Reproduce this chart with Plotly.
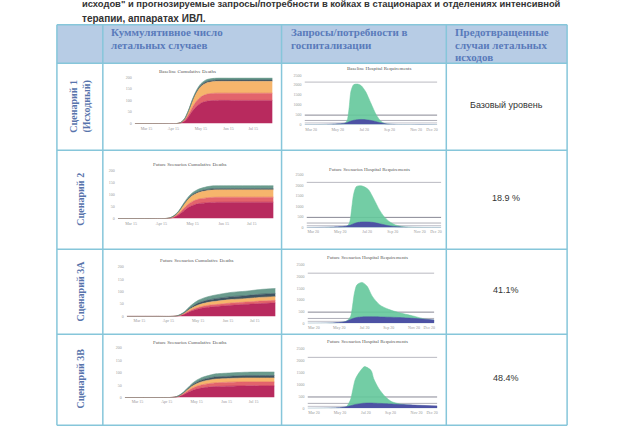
import plotly.graph_objects as go

W, H = 640, 443


def px(x):
    return x / W


def py(y):
    return 1 - y / H


# ---------------- DATA ----------------
header_lines = [["Куммулятивное число", "летальных случаев"],
                ["Запросы/потребности в", "госпитализации"],
                ["Предотвращенные", "случаи летальных", "исходов"]]
row_labels = ["Сценарий 1<br>(Исходный)", "Сценарий 2", "Сценарий 3А", "Сценарий 3В"]
prevented = ["Базовый уровень", "18.9 %", "41.1%", "48.4%"]
intro_line1 = "исходов\" и прогнозируемые запросы/потребности в койках в стационарах и отделениях интенсивной"
intro_line2 = "терапии, аппаратах ИВЛ."

cum_titles = ["Baseline Cumulative Deaths", "Future Scenarios Cumulative Deaths",
              "Future Scenarios Cumulative Deaths", "Future Scenarios Cumulative Deaths"]
hosp_titles = ["Baseline Hospital Requirements", "Future Scenarios Hospital Requirements",
               "Future Scenarios Hospital Requirements", "Future Scenarios Hospital Requirements"]

cum_x = [0, 20, 30, 33, 36, 39, 42, 45, 48, 52, 56, 60, 70, 80, 90, 100]
cum_tickvals = [8.5, 28, 48, 68, 86]
cum_ticktext = ["Mar 15", "Apr 15", "May 15", "Jun 15", "Jul 15"]
cum_yticks = [0, 50, 100, 150, 200]
layer_names = ["Layer 1", "Layer 2", "Layer 3", "Layer 4", "Layer 5"]
layer_colors = ["#b82a5e", "#e3646c", "#f6b56c", "#3f5563", "#6a9b8d"]

# scenario 1 (baseline)
s1_layers = [
    [0, 0, 0, 2, 10, 30, 55, 75, 88, 96, 99, 100, 100, 100, 100, 100],
    [0, 0, 0, 1, 3, 9, 17, 23, 27, 30, 31, 31, 31, 31, 31, 31],
    [0, 0, 0, 1, 5, 15, 28, 38, 45, 49, 50, 51, 51, 51, 51, 51],
    [0, 0, 0, 0, 1, 2, 3, 4, 5, 6, 6, 6, 6, 6, 6, 6],
    [0, 0, 0, 0, 1, 2, 4, 6, 7, 8, 8, 8, 8, 8, 8, 8],
]
# scenario 2
s2_layers = [
    [0, 0, 0, 1, 5, 15, 30, 45, 55, 63, 66, 68, 69, 69, 69, 69],
    [0, 0, 0, 0, 2, 5, 10, 14, 17, 19, 20, 21, 21, 21, 21, 21],
    [0, 0, 0, 1, 3, 8, 15, 21, 25, 28, 30, 31, 31, 31, 31, 31],
    [0, 0, 0, 0, 1, 1, 2, 3, 4, 4, 5, 5, 5, 5, 5, 5],
    [0, 0, 0, 0, 1, 2, 4, 6, 8, 10, 11, 12, 12, 12, 12, 12],
]
# scenario 3A
s3a_layers = [
    [0, 0, 0, 1, 4, 10, 18, 25, 30, 35, 38, 40, 45, 49, 52, 55],
    [0, 0, 0, 0, 1, 2, 4, 5, 6, 7, 8, 8, 9, 9, 10, 10],
    [0, 0, 0, 0, 1, 3, 6, 8, 10, 11, 12, 13, 14, 14, 15, 15],
    [0, 0, 0, 0, 1, 2, 4, 6, 8, 9, 10, 11, 12, 12, 13, 13],
    [0, 0, 0, 0, 1, 3, 6, 9, 11, 13, 14, 15, 17, 18, 19, 20],
]
# scenario 3B
s3b_layers = [
    [0, 0, 0, 1, 4, 11, 20, 28, 34, 39, 42, 44, 46, 47, 47, 47],
    [0, 0, 0, 0, 1, 3, 6, 9, 11, 13, 14, 15, 16, 16, 16, 16],
    [0, 0, 0, 0, 1, 3, 6, 9, 11, 13, 14, 15, 15, 16, 16, 16],
    [0, 0, 0, 0, 1, 2, 3, 5, 6, 7, 8, 9, 9, 10, 10, 10],
    [0, 0, 0, 0, 1, 2, 4, 6, 8, 10, 11, 12, 13, 13, 14, 14],
]
cum_data = [s1_layers, s2_layers, s3a_layers, s3b_layers]

hosp_tickvals = [5, 25, 45, 64, 84, 96]
hosp_ticktext = ["Mar 20", "May 20", "Jul 20", "Sep 20", "Nov 20", "Dec 20"]
hosp_yticks = [0, 500, 1000, 1500, 2000, 2500]

h1_x = [0, 10, 20, 26, 30, 32, 33.5, 35, 37, 40, 42.5, 46, 50, 54, 57.5, 61, 66, 72, 80, 100]
h1_green = [0, 2, 10, 25, 60, 200, 800, 1700, 2020, 2050, 1980, 1670, 1080, 500, 170, 40, 10, 2, 0, 0]
h1_blue = [0, 5, 20, 40, 70, 100, 140, 180, 220, 250, 260, 250, 210, 150, 90, 45, 15, 5, 0, 0]

h2_x = [0, 10, 20, 26, 30, 32, 33.5, 35, 37, 40, 42.5, 46, 50, 54, 57.5, 61, 66, 72, 80, 100]
h2_green = [0, 2, 10, 25, 60, 250, 900, 1600, 1950, 1990, 1950, 1800, 1350, 850, 520, 300, 120, 30, 5, 0]
h2_blue = [0, 5, 20, 40, 70, 100, 140, 180, 220, 255, 265, 260, 235, 180, 130, 85, 40, 15, 3, 0]

h3_x = [0, 10, 20, 26, 30, 32, 34, 37, 39, 43, 47, 51, 57, 64, 72, 83, 93, 100]
h3_green = [0, 2, 10, 30, 80, 150, 300, 1300, 1650, 1755, 1590, 1165, 790, 600, 460, 320, 180, 140]
h3_blue = [0, 5, 20, 45, 80, 120, 170, 230, 255, 275, 280, 280, 275, 265, 250, 215, 175, 145]

h4_x = [0, 10, 20, 26, 30, 33, 37, 42, 44, 49, 51, 55, 60, 65, 73, 86, 100]
h4_green = [0, 2, 10, 30, 80, 350, 1250, 1670, 1760, 1600, 1250, 830, 490, 280, 170, 110, 70]
h4_blue = [0, 5, 20, 40, 70, 110, 165, 210, 220, 225, 220, 210, 200, 185, 160, 130, 105]

hosp_data = [(h1_x, h1_green, h1_blue), (h2_x, h2_green, h2_blue),
             (h3_x, h3_green, h3_blue), (h4_x, h4_green, h4_blue)]

capacity_levels = [2150, 480, 210, 85]
capacity_colors = ["#a8a8b2", "#6a6a78", "#9a9aa6", "#b5b5c0"]

# ---------------- LAYOUT GEOMETRY (pixels) ----------------
cum_boxes = [(135, 273, 75, 122), (118, 274, 170, 218), (127, 276, 267, 317), (125, 275, 349, 399)]
hosp_boxes = [(305, 438, 73, 123), (307, 442, 174, 227), (308, 435, 265, 324), (308, 438, 350, 410)]
cum_title_pos = [(188, 69), (190, 163), (197, 260), (190, 343)]
hosp_title_pos = [(380, 66), (370, 168), (368, 257), (368, 342)]

col_x = [57, 103, 282, 447, 568]
row_y = [22, 61, 149, 249, 335, 427]
border_color = "#86c6da"

fig = go.Figure()
layout = dict(width=W, height=H, margin=dict(l=0, r=0, t=0, b=0),
              paper_bgcolor="white", plot_bgcolor="rgba(0,0,0,0)", showlegend=False)

axis_common = dict(showgrid=False, zeroline=False, showline=False, ticks="",
                   tickfont=dict(size=4, color="#999999", family="Liberation Serif"),
                   fixedrange=True)

annotations = []
shapes = []


def note(x, y, text, size, color, family, xanchor="center", yanchor="middle", **kw):
    d = dict(x=px(x), y=py(y), xref="paper", yref="paper", text=text, showarrow=False,
             xanchor=xanchor, yanchor=yanchor,
             font=dict(size=size, color=color, family=family))
    d.update(kw)
    annotations.append(d)


for r in range(4):
    li = 2 * r + 1
    ri = 2 * r + 2
    # cumulative deaths chart
    x0, x1, y0, y1 = cum_boxes[r]
    layout[f"xaxis{li}"] = dict(axis_common, domain=[px(x0), px(x1)], anchor=f"y{li}",
                                range=[0, 100], tickvals=cum_tickvals, ticktext=cum_ticktext,
                                ticklabelstandoff=1)
    layout[f"yaxis{li}"] = dict(axis_common, domain=[py(y1), py(y0)], anchor=f"x{li}",
                                range=[0, 200], tickvals=cum_yticks,
                                ticktext=[str(v) for v in cum_yticks], ticklabelstandoff=2)
    for k, vals in enumerate(cum_data[r]):
        fig.add_trace(go.Scatter(x=cum_x, y=vals, name=layer_names[k],
                                 xaxis=f"x{li}", yaxis=f"y{li}",
                                 stackgroup=f"g{r}", mode="lines",
                                 line=dict(width=0.6, color=layer_colors[k], shape="spline",
                                           smoothing=0.8),
                                 fillcolor=layer_colors[k]))
    tx, ty = cum_title_pos[r]
    note(tx, ty, cum_titles[r], 5, "#555", "Liberation Serif")

    # hospital chart
    x0, x1, y0, y1 = hosp_boxes[r]
    layout[f"xaxis{ri}"] = dict(axis_common, domain=[px(x0), px(x1)], anchor=f"y{ri}",
                                range=[0, 100], tickvals=hosp_tickvals, ticktext=hosp_ticktext,
                                ticklabelstandoff=1)
    layout[f"yaxis{ri}"] = dict(axis_common, domain=[py(y1), py(y0)], anchor=f"x{ri}",
                                range=[0, 2500], tickvals=hosp_yticks,
                                ticktext=[str(v) for v in hosp_yticks], ticklabelstandoff=2)
    hx, hg, hb = hosp_data[r]
    for c, col in zip(capacity_levels, capacity_colors):
        fig.add_trace(go.Scatter(x=[0, 100], y=[c, c], xaxis=f"x{ri}", yaxis=f"y{ri}",
                                 mode="lines", line=dict(width=0.8, color=col),
                                 hoverinfo="skip"))
    fig.add_trace(go.Scatter(x=hx, y=hg, xaxis=f"x{ri}", yaxis=f"y{ri}", mode="lines",
                             fill="tozeroy", fillcolor="rgba(100,200,155,0.9)",
                             line=dict(width=0.5, color="#6cc8a0", shape="spline", smoothing=0.8),
                             name="Hospital"))
    fig.add_trace(go.Scatter(x=hx, y=hb, xaxis=f"x{ri}", yaxis=f"y{ri}", mode="lines",
                             fill="tozeroy", fillcolor="#4d52a4",
                             line=dict(width=0.5, color="#4d52a4", shape="spline", smoothing=0.8),
                             name="ICU"))
    tx, ty = hosp_title_pos[r]
    note(tx, ty, hosp_titles[r], 5, "#555", "Liberation Serif")

# table header fill
shapes.append(dict(type="rect", xref="paper", yref="paper", layer="below",
                   x0=px(col_x[0]), x1=px(col_x[-1]), y0=py(row_y[1]), y1=py(row_y[0]),
                   fillcolor="#b7cce5", line=dict(width=0)))
# table borders
for cx in col_x:
    shapes.append(dict(type="line", xref="paper", yref="paper",
                       x0=px(cx), x1=px(cx), y0=py(row_y[-1]), y1=py(row_y[0]),
                       line=dict(color=border_color, width=1.5)))
for ry in row_y:
    shapes.append(dict(type="line", xref="paper", yref="paper",
                       x0=px(col_x[0]), x1=px(col_x[-1]), y0=py(ry), y1=py(ry),
                       line=dict(color=border_color, width=1.5)))

# intro text (first line is cut by the top edge in the reference)
note(80, 0, "<b>" + intro_line1 + "</b>", 9.4, "#333", "Liberation Sans", xanchor="left")
note(80, 16, "<b>" + intro_line2 + "</b>", 10, "#333", "Liberation Sans", xanchor="left")

# header texts, one annotation per line
header_x = [109, 289, 454]
for hx_, lines in zip(header_x, header_lines):
    for j, t in enumerate(lines):
        note(hx_, 29 + 13 * j, "<b>" + t + "</b>", 11, "#5a7bbb", "Liberation Serif",
             xanchor="left")

# row labels & prevented values
for r in range(4):
    cy = (row_y[r + 1] + row_y[r + 2]) / 2
    note(81, cy - 1, "<b>" + row_labels[r] + "</b>", 10, "#5874ac", "Liberation Serif",
         textangle=-90)
    note(507, cy - 2, prevented[r], 9, "#333", "Liberation Sans")

layout["annotations"] = annotations
layout["shapes"] = shapes
fig.update_layout(**layout)
fig.write_html("out.html")
